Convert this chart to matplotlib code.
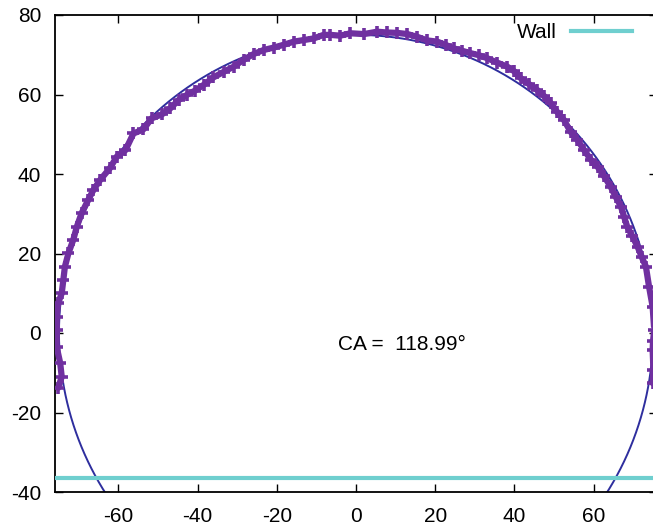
import numpy as np
import matplotlib

matplotlib.use('Agg')
import matplotlib.pyplot as plt

plt.rcParams['font.family'] = ['Liberation Sans', 'DejaVu Sans']
plt.rcParams['axes.unicode_minus'] = False

# droplet contour points (left foot -> top -> right foot)
drop_x = [-75.2, -74.3, -74.7, -75.6, -75.5, -75.6, -75.2, -74.3, -73.9, -73.5,
          -72.6, -71.4, -70.5, -69.3, -67.6, -66.3, -64.6, -62.1, -60.4, -58.2,
          -56.2, -53.7, -51.6, -49.0, -46.9, -44.8, -42.7, -40.6, -38.5, -36.0,
          -33.4, -30.9, -28.4, -25.8, -23.3, -20.8, -18.3, -15.7, -13.2, -10.7,
          -8.2, -6.5, -4.0, -1.4, 2.0, 5.3, 7.8, 10.4, 13.0, 15.5,
          18.0, 20.5, 22.6, 24.7, 26.8, 28.9, 31.0, 33.2, 35.7, 38.2,
          40.0, 41.6, 43.7, 45.8, 47.5, 49.2, 50.8, 52.5, 54.2, 55.9,
          57.6, 59.3, 61.0, 62.6, 64.3, 65.6, 66.9, 67.7, 68.5, 69.8,
          71.1, 72.2, 73.2, 74.0, 74.9, 75.3, 75.0, 74.9, 75.1, 74.9]
drop_y = [-13.8, -11.0, -7.5, -3.4, 0.8, 4.1, 7.5, 10.0, 13.3, 16.7,
          20.1, 23.4, 26.7, 30.1, 33.5, 36.0, 38.5, 41.5, 44.4, 46.0,
          50.2, 51.2, 54.0, 55.0, 56.5, 58.6, 59.9, 61.0, 62.4, 64.3,
          65.7, 67.0, 68.7, 70.2, 71.2, 71.8, 72.5, 73.3, 73.7, 74.1,
          75.0, 75.0, 74.8, 75.4, 75.2, 75.8, 75.6, 75.5, 75.2, 74.5,
          73.6, 73.3, 72.5, 71.6, 71.0, 70.4, 69.9, 69.1, 68.0, 67.0,
          65.8, 64.1, 62.6, 61.1, 59.6, 57.8, 55.6, 53.6, 50.6, 48.6,
          46.0, 43.6, 41.8, 39.5, 36.8, 34.2, 31.8, 29.2, 26.7, 24.3,
          21.7, 19.0, 16.7, 11.6, 6.6, 0.8, -2.0, -4.3, -9.3, -12.6]

# fitted circle and wall
fit_xc = 0.0
fit_yc = 0.0
fit_r = 75.0
wall_y = -36.5
contact_angle = 118.99

fig = plt.figure(figsize=(6.53, 5.25), dpi=100)
ax = fig.add_axes([55 / 653, 33 / 525, 602 / 653, 477 / 525])

t = np.linspace(0, 2 * np.pi, 721)
ax.plot(fit_xc + fit_r * np.cos(t), fit_yc + fit_r * np.sin(t),
        color='#2E2E9E', lw=1.4, zorder=2)

ax.plot(drop_x, drop_y, color='#7030A0', lw=4.5, solid_capstyle='round',
        marker='+', ms=8, mew=2.6, zorder=3)

ax.plot([-80, 80], [wall_y, wall_y], color='#6FCFCF', lw=3, label='Wall', zorder=4)

ax.text(-4.6, -2.8, 'CA =  %.2f°' % contact_angle, fontsize=15,
        ha='left', va='center')

ax.set_xlim(-76, 76)
ax.set_ylim(-40, 80)
ax.set_xticks(range(-60, 61, 20))
ax.set_yticks(range(-40, 81, 20))
ax.tick_params(direction='in', length=6, width=1, labelsize=15,
               top=True, right=True)
ax.tick_params(axis='x', pad=11)
ax.tick_params(axis='y', pad=10)
for s in ax.spines.values():
    s.set_linewidth(1.3)

ax.legend(loc='upper right', bbox_to_anchor=(0.975, 1.005), frameon=False,
          markerfirst=False, handlelength=2.9, handletextpad=0.7,
          fontsize=15, borderaxespad=0.1)

plt.savefig('out.png', dpi=100)
plt.close()
